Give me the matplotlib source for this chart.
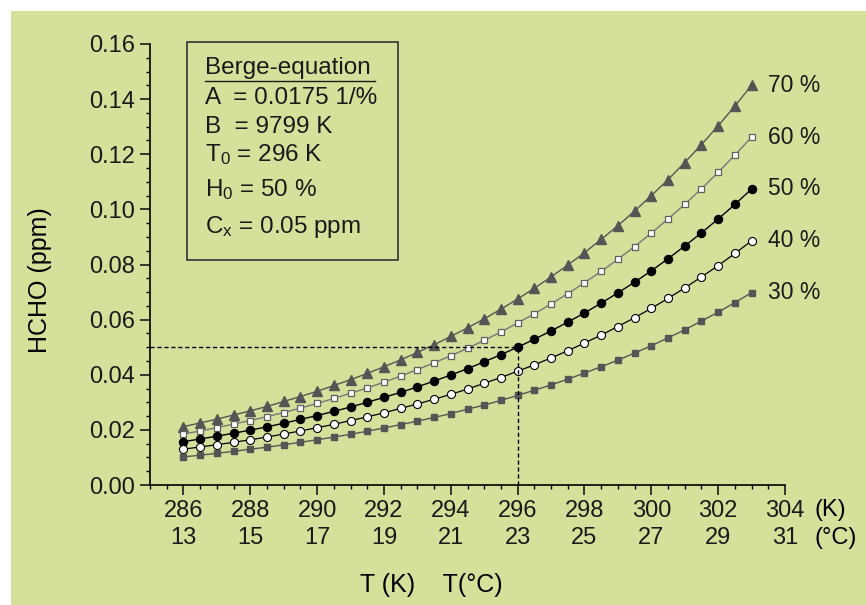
import matplotlib.pyplot as plt
from matplotlib.patches import Rectangle
from matplotlib.lines import Line2D
from matplotlib.ticker import MultipleLocator

plt.rcParams['font.family'] = ['Liberation Sans', 'DejaVu Sans']
plt.rcParams['mathtext.fontset'] = 'custom'
plt.rcParams['mathtext.rm'] = 'Liberation Sans'
plt.rcParams['mathtext.it'] = 'Liberation Sans'

# temperatures (K) of the data points
temp_k = [286, 286.5, 287, 287.5, 288, 288.5, 289, 289.5, 290, 290.5, 291, 291.5,
          292, 292.5, 293, 293.5, 294, 294.5, 295, 295.5, 296, 296.5, 297, 297.5,
          298, 298.5, 299, 299.5, 300, 300.5, 301, 301.5, 302, 302.5, 303]

# HCHO (ppm) for each relative humidity
h70 = [0.0212, 0.0225, 0.0239, 0.0254, 0.0269, 0.0285, 0.0303, 0.0321, 0.0340, 0.0361,
       0.0382, 0.0405, 0.0429, 0.0454, 0.0481, 0.0509, 0.0539, 0.0570, 0.0603, 0.0638,
       0.0675, 0.0714, 0.0755, 0.0798, 0.0843, 0.0891, 0.0941, 0.0994, 0.1050, 0.1108,
       0.1170, 0.1235, 0.1303, 0.1375, 0.1450]
h60 = [0.0185, 0.0196, 0.0208, 0.0221, 0.0234, 0.0248, 0.0263, 0.0279, 0.0296, 0.0314,
       0.0333, 0.0352, 0.0373, 0.0395, 0.0419, 0.0443, 0.0469, 0.0496, 0.0525, 0.0555,
       0.0588, 0.0621, 0.0657, 0.0694, 0.0734, 0.0775, 0.0819, 0.0865, 0.0914, 0.0965,
       0.1018, 0.1075, 0.1134, 0.1197, 0.1262]
h50 = [0.0157, 0.0167, 0.0177, 0.0188, 0.0199, 0.0211, 0.0224, 0.0238, 0.0252, 0.0267,
       0.0283, 0.0300, 0.0318, 0.0336, 0.0356, 0.0377, 0.0399, 0.0422, 0.0447, 0.0473,
       0.0500, 0.0529, 0.0559, 0.0591, 0.0624, 0.0660, 0.0697, 0.0736, 0.0777, 0.0821,
       0.0867, 0.0915, 0.0965, 0.1018, 0.1074]
h40 = [0.0130, 0.0138, 0.0146, 0.0155, 0.0164, 0.0174, 0.0185, 0.0196, 0.0208, 0.0220,
       0.0234, 0.0247, 0.0262, 0.0278, 0.0294, 0.0311, 0.0329, 0.0348, 0.0369, 0.0390,
       0.0413, 0.0436, 0.0461, 0.0487, 0.0515, 0.0544, 0.0575, 0.0607, 0.0641, 0.0677,
       0.0715, 0.0755, 0.0796, 0.0840, 0.0886]
h30 = [0.0102, 0.0108, 0.0115, 0.0122, 0.0130, 0.0137, 0.0146, 0.0155, 0.0164, 0.0174,
       0.0184, 0.0195, 0.0207, 0.0219, 0.0232, 0.0245, 0.0259, 0.0275, 0.0290, 0.0307,
       0.0325, 0.0344, 0.0363, 0.0384, 0.0406, 0.0429, 0.0453, 0.0479, 0.0505, 0.0534,
       0.0563, 0.0595, 0.0627, 0.0662, 0.0698]

# tick labels
ticks_k = [286, 288, 290, 292, 294, 296, 298, 300, 302, 304]
ticks_c = [13, 15, 17, 19, 21, 23, 25, 27, 29, 31]

# reference point of the equation
T0 = 296
CX = 0.05

bg = '#d5e09a'
ink = '#1a1a1a'
W, H = 866, 605
FS = 17

fig = plt.figure(figsize=(8.66, 6.05), dpi=100)
fig.patch.set_facecolor('white')
fig.patches.append(Rectangle((11 / W, 0), 1, 1 - 11 / H, transform=fig.transFigure,
                             facecolor=bg, edgecolor='none', zorder=-10))

ax = fig.add_axes([150 / W, 1 - 485 / H, (785 - 150) / W, (485 - 44) / H])
ax.set_facecolor('none')

# series
ax.plot(temp_k, h70, '-^', color='#555555', lw=1.0, ms=6.5, mfc='#555555', mec='#555555')
ax.plot(temp_k, h60, '-s', color='#777777', lw=1.0, ms=5, mfc='white', mec='#606060', mew=0.9)
ax.plot(temp_k, h50, '-o', color='black', lw=1.0, ms=5.8, mfc='black', mec='black')
ax.plot(temp_k, h40, '-o', color='black', lw=0.9, ms=5.8, mfc='white', mec='black', mew=0.8)
ax.plot(temp_k, h30, '-s', color='#555555', lw=1.0, ms=5, mfc='#555555', mec='#555555')

# labels at the end of each curve
for vals, lab in [(h70, '70 %'), (h60, '60 %'), (h50, '50 %'), (h40, '40 %'), (h30, '30 %')]:
    ax.text(temp_k[-1] + 0.5, vals[-1], lab, fontsize=16.5, va='center', ha='left', color=ink)

# dashed reference lines
ax.plot([285, T0], [CX, CX], color='black', lw=1.0, ls=(0, (3, 2)))
ax.plot([T0, T0], [0, CX], color='black', lw=1.0, ls=(0, (3, 2)))

ax.set_xlim(285, 304)
ax.set_ylim(0, 0.16)

for s in ['top', 'right']:
    ax.spines[s].set_visible(False)
for s in ['left', 'bottom']:
    ax.spines[s].set_linewidth(1.2)

ax.set_xticks(ticks_k)
ax.set_xticklabels([f'{k}\n{c}' for k, c in zip(ticks_k, ticks_c)], linespacing=1.3)
ax.xaxis.set_minor_locator(MultipleLocator(0.5))
ax.yaxis.set_major_locator(MultipleLocator(0.02))
ax.yaxis.set_minor_locator(MultipleLocator(0.005))
ax.yaxis.set_major_formatter(plt.FormatStrFormatter('%.2f'))
ax.tick_params(axis='both', which='major', length=7, width=1.2, labelsize=FS, colors=ink)
ax.tick_params(axis='both', which='minor', length=3.2, width=1.0)
ax.tick_params(axis='x', which='major', pad=4)
ax.tick_params(axis='y', which='major', pad=4)

# axis titles
fig.text(40 / W, 1 - 280 / H, 'HCHO (ppm)', rotation=90, fontsize=18, ha='center', va='center')
fig.text(431 / W, 1 - 585 / H, 'T (K)    T(°C)', fontsize=18, ha='center', va='center')
fig.text(814 / W, 1 - 510 / H, '(K)', fontsize=FS, ha='left', va='center')
fig.text(814 / W, 1 - 538 / H, '(°C)', fontsize=FS, ha='left', va='center')

# equation box
fig.patches.append(Rectangle((187 / W, 1 - 260 / H), (398 - 187) / W, (260 - 42) / H,
                             transform=fig.transFigure, facecolor='none',
                             edgecolor='#333333', lw=1.2))
box_lines = [
    ('Berge-equation', 68),
    ('A  = 0.0175 1/%', 98),
    ('B  = 9799 K', 127),
    ('T$_0$ = 296 K', 155),
    ('H$_0$ = 50 %', 190),
    ('C$_x$ = 0.05 ppm', 227),
]
for txt, yp in box_lines:
    fig.text(205 / W, 1 - yp / H, txt, fontsize=17.5, ha='left', va='center', color=ink)
fig.lines.append(Line2D([205 / W, 375 / W], [1 - 81 / H, 1 - 81 / H],
                        transform=fig.transFigure, color=ink, lw=1.0))

fig.savefig('out.png', dpi=100, facecolor=fig.get_facecolor())
